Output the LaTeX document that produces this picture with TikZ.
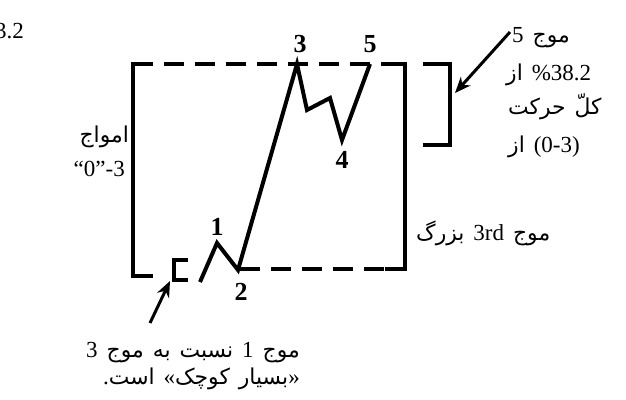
\documentclass[tikz,border=0pt]{standalone}
\usepackage{fontspec}
\setmainfont{Liberation Serif}
\newfontfamily\arabicfont[Script=Arabic, Scale=0.95]{DejaVu Sans}
\TeXXeTstate=1
\usetikzlibrary{arrows.meta}
\newcommand{\fa}[1]{{\arabicfont\beginR #1\endR}}
\newcommand{\widespace}{\spaceskip 9pt plus 2pt\relax}

\begin{document}
\begin{tikzpicture}[x=1pt, y=-1pt,
    frame/.style={line width=4pt},
    dashframe/.style={line width=4pt, dash pattern=on 20pt off 11pt},
    wave/.style={line width=4pt, line join=miter},
    pointer/.style={line width=3pt, -{Stealth[length=16pt, width=13pt]}},
    txt/.style={inner sep=0pt, font=\fontsize{23}{27}\selectfont\widespace},
    wavelbl/.style={inner sep=0pt, font=\fontsize{26}{30}\selectfont\bfseries}]
    \useasboundingbox (0,0) rectangle (626,399);

    % Big frame of wave 3
    \draw[dashframe] (133,64) -- (405,64);
    \draw[dashframe] (240,269) -- (405,269);
    \draw[frame] (153,276) -- (133,276) -- (133,64) -- (153,64);
    \draw[frame] (385,64) -- (405,64) -- (405,269) -- (385,269);

    % Small brackets
    \draw[frame] (188,260) -- (174,260) -- (174,280) -- (188,280);
    \draw[frame] (423,64) -- (450,64) -- (450,145) -- (423,145);

    % Wave line
    \coordinate (w0) at (200,282);
    \coordinate (w1) at (217,243);
    \coordinate (w2) at (238,270);
    \coordinate (w3) at (297,64);
    \coordinate (w3a) at (307,110);
    \coordinate (w3b) at (330,98);
    \coordinate (w4) at (342,140);
    \coordinate (w5) at (370,64);
    \draw[wave] (w0) -- (w1) -- (w2) -- (w3) -- (w3a) -- (w3b) -- (w4) -- (w5);

    \node[wavelbl] (l1) at (217,227) {1};
    \node[wavelbl] (l2) at (241,292) {2};
    \node[wavelbl] (l3) at (300,44) {3};
    \node[wavelbl] (l4) at (342,160) {4};
    \node[wavelbl] (l5) at (370,44) {5};

    % Notes (words in visual order, right to left reading)
    \node[txt, anchor=base west] (top) at (-5,38) {3.2};
    \node[txt, anchor=base west] (r1) at (512,42) {5 \fa{موج}};
    \node[txt, anchor=base west] (r2) at (506,80) {\fa{از} \%38.2};
    \node[txt, anchor=base west] (r3) at (508,114) {\fa{حرکت} \fa{کلّ}};
    \node[txt, anchor=base west] (r4) at (508,152) {\fa{از} (0-3)};
    \node[txt, anchor=base east] (lw1) at (129,142) {\fa{امواج}};
    \node[txt, anchor=base east] (lw2) at (125,176) {``0''-3};
    \node[txt, anchor=base west] (big3) at (416,240) {\fa{بزرگ} 3rd \fa{موج}};
    \node[txt, anchor=base east] (cap1) at (300,357) {3 \fa{موج} \fa{به} \fa{نسبت} 1 \fa{موج}};
    \node[txt, anchor=base east] (cap2) at (300,384) {.\fa{است} «\fa{کوچک} \fa{بسیار}»};

    % Pointers
    \coordinate (tailR) at (510,32);
    \coordinate (tipR) at (455,93);
    \coordinate (tailB) at (150,323);
    \coordinate (tipB) at (170,281);
    \draw[pointer] (tailR) -- (tipR);
    \draw[pointer] (tailB) -- (tipB);
\end{tikzpicture}
\end{document}
